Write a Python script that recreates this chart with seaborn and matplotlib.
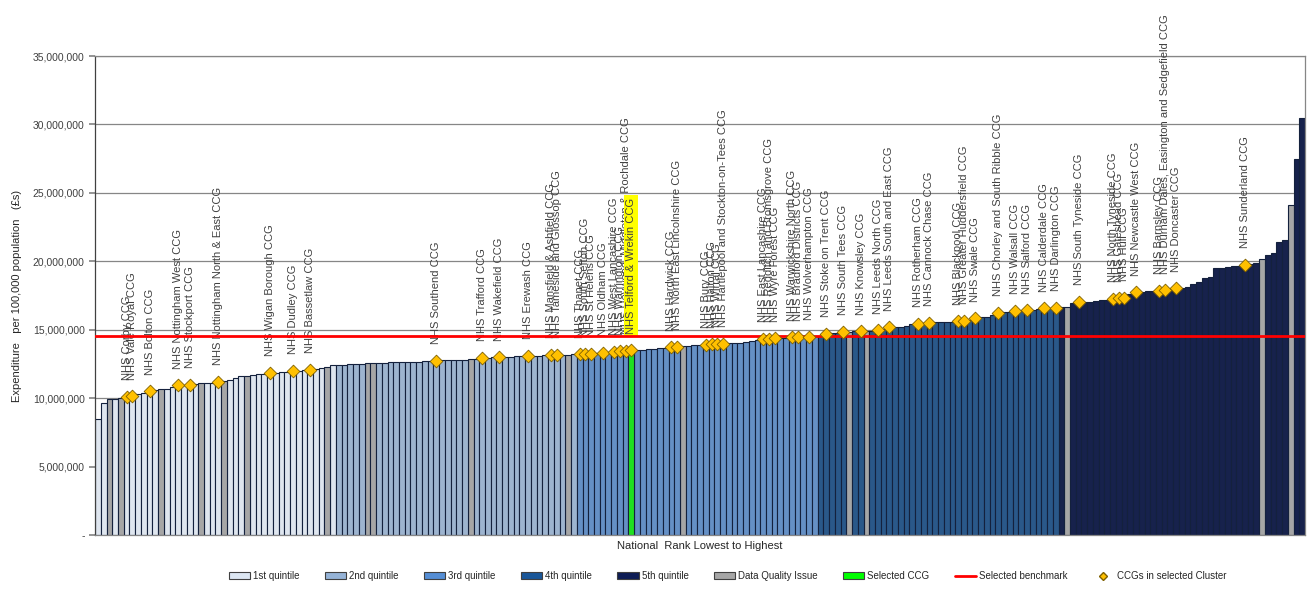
import matplotlib
matplotlib.use("Agg")
import pandas as pd
import matplotlib.pyplot as plt
import seaborn as sns
from matplotlib.lines import Line2D
from matplotlib.patches import Patch
from matplotlib.ticker import FuncFormatter, MultipleLocator

# expenditure per 100,000 population (millions of £), CCGs ranked lowest to highest
q1_values = [8.5, 9.65, 9.95, 9.98, 10.0, 10.1, 10.15, 10.3, 10.4, 10.5,
             10.6, 10.65, 10.7, 10.8, 10.95, 10.97, 11.0, 11.05, 11.1, 11.1,
             11.15, 11.2, 11.25, 11.3, 11.5, 11.6, 11.65, 11.7, 11.75, 11.8,
             11.85, 11.87, 11.9, 11.95, 12.0, 12.02, 12.05, 12.1, 12.15, 12.2,
             12.3, 12.4]
q2_values = [12.42, 12.45, 12.48, 12.5, 12.52, 12.55, 12.56, 12.58, 12.6, 12.62,
             12.63, 12.64, 12.65, 12.66, 12.68, 12.7, 12.72, 12.74, 12.76, 12.78,
             12.79, 12.8, 12.82, 12.84, 12.9, 12.95, 12.96, 12.98, 13.0, 13.02,
             13.04, 13.06, 13.08, 13.1, 13.11, 13.12, 13.13, 13.15, 13.16, 13.17,
             13.18, 13.2]
q3_values = [13.22, 13.24, 13.26, 13.28, 13.3, 13.33, 13.38, 13.42, 13.46, 13.5,
             13.53, 13.56, 13.59, 13.62, 13.65, 13.68, 13.72, 13.76, 13.8, 13.83,
             13.86, 13.89, 13.92, 13.94, 13.96, 13.98, 14.0, 14.02, 14.04, 14.08,
             14.15, 14.25, 14.32, 14.35, 14.38, 14.4, 14.42, 14.44, 14.46, 14.48,
             14.5, 14.52]
q4_values = [14.58, 14.72, 14.74, 14.78, 14.84, 14.86, 14.88, 14.9, 14.92, 14.93,
             14.96, 15.05, 15.17, 15.22, 15.24, 15.3, 15.4, 15.46, 15.5, 15.52,
             15.55, 15.57, 15.58, 15.6, 15.62, 15.66, 15.75, 15.83, 15.9, 15.95,
             16.1, 16.22, 16.28, 16.32, 16.38, 16.4, 16.42, 16.48, 16.52, 16.56,
             16.6, 16.62]
q5_values = [16.66, 16.68, 16.95, 17.02, 17.04, 17.06, 17.1, 17.15, 17.2, 17.28,
             17.3, 17.32, 17.6, 17.75, 17.78, 17.8, 17.83, 17.86, 17.88, 17.95,
             18.02, 18.08, 18.15, 18.35, 18.5, 18.75, 18.88, 19.5, 19.55, 19.62,
             19.65, 19.68, 19.74, 19.8, 19.85, 20.15, 20.45, 20.6, 21.4, 21.55,
             24.15, 27.45, 30.5]

quintile_labels = ["1st quintile", "2nd quintile", "3rd quintile", "4th quintile", "5th quintile"]
data_quality_ranks = [2, 4, 11, 18, 22, 26, 40, 47, 48, 65, 82, 102, 131, 134, 169, 203, 208]
selected_rank = 93
benchmark = 14.55e6

cluster_ranks = [5, 6, 9, 14, 16, 21, 30, 34, 37, 59, 67, 70, 75, 79, 80,
                 84, 85, 86, 88, 90, 91, 92, 93, 100, 101, 106, 107, 108, 109,
                 116, 117, 118, 121, 122, 124, 127, 130, 133, 136, 138, 143, 145,
                 150, 151, 153, 157, 160, 162, 165, 167, 171, 177, 178, 179, 181,
                 185, 186, 188, 200]
cluster_names = [
    "NHS Corby CCG", "NHS Vale Royal CCG", "NHS Bolton CCG", "NHS Nottingham West CCG",
    "NHS Stockport CCG", "NHS Nottingham North & East CCG", "NHS Wigan Borough CCG",
    "NHS Dudley CCG", "NHS Bassetlaw CCG", "NHS Southend CCG", "NHS Trafford CCG",
    "NHS Wakefield CCG", "NHS Erewash CCG", "NHS Mansfield & Ashfield CCG",
    "NHS Tameside and Glossop CCG", "NHS Thanet CCG", "NHS South Sefton CCG",
    "NHS St Helens CCG", "NHS Oldham CCG", "NHS West Lancashire CCG", "NHS Warrington CCG",
    "NHS Heywood, Middleton & Rochdale CCG", "NHS Telford & Wrekin CCG",
    "NHS Hardwick CCG", "NHS North East Lincolnshire CCG", "NHS Bury CCG", "NHS Halton CCG",
    "NHS Wirral CCG", "NHS Hartlepool and Stockton-on-Tees CCG", "NHS East Lancashire CCG",
    "NHS Redditch and Bromsgrove CCG", "NHS Wyre Forest CCG", "NHS Warwickshire North CCG",
    "NHS Bradford Districts CCG", "NHS Wolverhampton CCG", "NHS Stoke on Trent CCG",
    "NHS South Tees CCG", "NHS Knowsley CCG", "NHS Leeds North CCG",
    "NHS Leeds South and East CCG", "NHS Rotherham CCG", "NHS Cannock Chase CCG",
    "NHS Blackpool CCG", "NHS Greater Huddersfield CCG", "NHS Swale CCG",
    "NHS Chorley and South Ribble CCG", "NHS Walsall CCG", "NHS Salford CCG",
    "NHS Calderdale CCG", "NHS Darlington CCG", "NHS South Tyneside CCG",
    "NHS North Tyneside CCG", "NHS Gateshead CCG", "NHS Hull CCG", "NHS Newcastle West CCG",
    "NHS Barnsley CCG", "NHS Durham Dales, Easington and Sedgefield CCG",
    "NHS Doncaster CCG", "NHS Sunderland CCG",
]

palette = {
    "1st quintile": "#DCE6F2",
    "2nd quintile": "#95B3D7",
    "3rd quintile": "#558ED5",
    "4th quintile": "#1A5799",
    "5th quintile": "#0E1D55",
    "Data Quality Issue": "#A6A6A6",
    "Selected CCG": "#00FF00",
}

# one row per CCG
rows = []
for label, vals in zip(quintile_labels, [q1_values, q2_values, q3_values, q4_values, q5_values]):
    for v in vals:
        rows.append({"value": v * 1e6, "group": label})
df = pd.DataFrame(rows)
df["rank"] = range(len(df))
df.loc[df["rank"].isin(data_quality_ranks), "group"] = "Data Quality Issue"
df.loc[df["rank"] == selected_rank, "group"] = "Selected CCG"

sns.set_theme(style="white")
plt.rcParams["font.family"] = ["Liberation Sans", "DejaVu Sans"]

fig = plt.figure(figsize=(13.11, 5.90), dpi=100)
ax = fig.add_axes([0.0725, 0.093, 0.923, 0.812])

sns.barplot(data=df, x="rank", y="value", hue="group", palette=palette, dodge=False,
            width=1.0, edgecolor="#14213D", linewidth=0.8, legend=False, ax=ax)

cluster_values = df.set_index("rank").loc[cluster_ranks, "value"].values
ax.axhline(benchmark, color="#FF0000", lw=2, zorder=4)
sns.scatterplot(x=cluster_ranks, y=cluster_values, marker="D", s=42, color="#FFC000",
                edgecolor="#7F6000", linewidth=0.6, zorder=6, ax=ax, legend=False)

for r, v, name in zip(cluster_ranks, cluster_values, cluster_names):
    box = None
    if r == selected_rank:
        box = dict(facecolor="#FFFF00", edgecolor="none", pad=1.5)
    ax.annotate(name, (r, v), xytext=(0, 12), textcoords="offset points",
                rotation=90, ha="center", va="bottom", fontsize=8,
                color="#404040", bbox=box, annotation_clip=False)

ax.set_xlim(-0.5, len(df) - 0.5)
ax.set_ylim(0, 35e6)
ax.yaxis.set_major_locator(MultipleLocator(5e6))
ax.yaxis.set_major_formatter(FuncFormatter(lambda y, _: "-" if y == 0 else f"{y:,.0f}"))
ax.yaxis.grid(True, color="#868686", lw=0.9)
ax.set_axisbelow(True)
ax.set_xticks([])
ax.tick_params(axis="y", labelsize=7.5, labelcolor="#404040", length=4,
               color="#868686", left=True)
for s in ax.spines.values():
    s.set_color("#868686")
    s.set_linewidth(0.9)
ax.spines["left"].set_color("#404040")

ax.set_ylabel("Expenditure   per 100,000 population   (£s)", fontsize=8, labelpad=8)
ax.set_xlabel("National  Rank Lowest to Highest", fontsize=8, labelpad=4)

handles = [Patch(facecolor=palette[k], edgecolor="#404040", linewidth=0.8) for k in palette]
handles.append(Line2D([], [], color="#FF0000", lw=2))
handles.append(Line2D([], [], marker="D", ls="none", markersize=4,
                      markerfacecolor="#FFC000", markeredgecolor="#7F6000"))
labels = list(palette) + ["Selected benchmark", "CCGs in selected Cluster"]
fig.legend(handles, labels, loc="lower center", bbox_to_anchor=(0.555, 0.0), ncol=9,
           frameon=False, fontsize=7, handlelength=2.2, handletextpad=0.3,
           columnspacing=2.6)

fig.savefig("out.png", dpi=100)
